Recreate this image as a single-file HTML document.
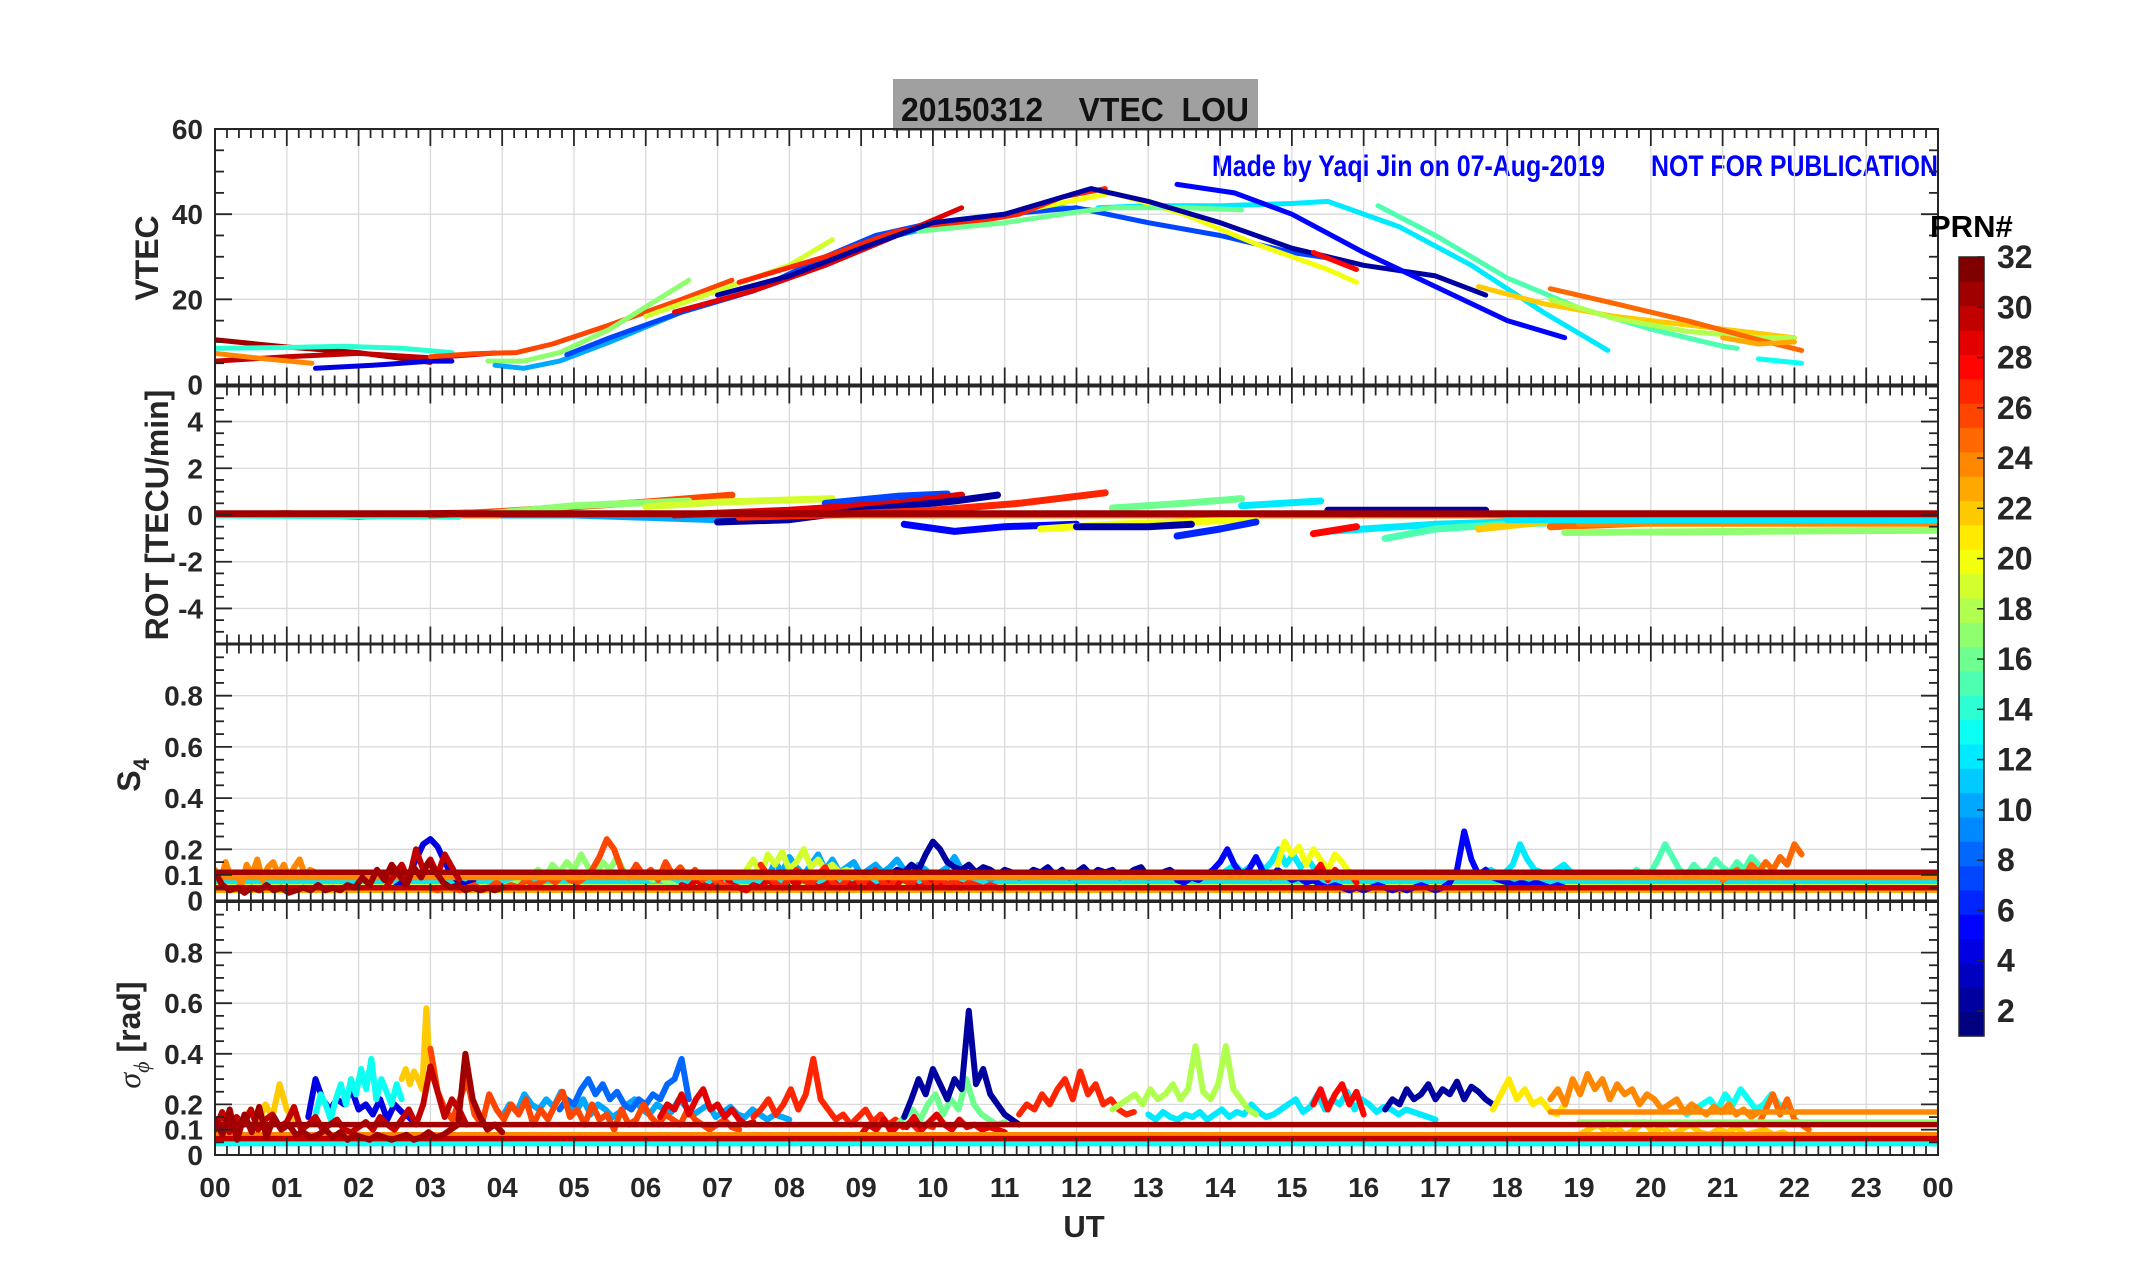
<!DOCTYPE html>
<html><head><meta charset="utf-8"><style>
html,body{margin:0;padding:0;background:#fff;}
svg{display:block;font-family:"Liberation Sans",Arial,sans-serif;}
</style></head><body>
<svg id="fig" width="2153" height="1286" viewBox="0 0 2153 1286" xmlns="http://www.w3.org/2000/svg">
<rect x="0" y="0" width="2153" height="1286" fill="#fff"/>
<rect x="893" y="79" width="365" height="52" fill="#a0a0a0"/>
<text x="901" y="121" font-size="33" font-weight="bold" fill="#111" textLength="348" lengthAdjust="spacingAndGlyphs" xml:space="preserve">20150312    VTEC  LOU</text>
<text x="1212" y="176" font-size="30" font-weight="bold" fill="#0000ff" textLength="393" lengthAdjust="spacingAndGlyphs">Made by Yaqi Jin on 07-Aug-2019</text>
<text x="1651" y="176" font-size="30" font-weight="bold" fill="#0000ff" textLength="287" lengthAdjust="spacingAndGlyphs">NOT FOR PUBLICATION</text>
<g id="panels"></g>
<g id="cbar"></g>
<text x="1084" y="1237" font-size="31" font-weight="bold" fill="#262626" text-anchor="middle">UT</text>
</svg>
<script>
// ---------- data ----------
const hourTicks = ["00","01","02","03","04","05","06","07","08","09","10","11","12","13","14","15","16","17","18","19","20","21","22","23","00"];
const vtecTicks = [0,20,40,60];
const rotTicks = [-4,-2,0,2,4];
const s4Ticks = [0,0.1,0.2,0.4,0.6,0.8];
const sigTicks = [0,0.1,0.2,0.4,0.6,0.8];
const cbarTicks = [2,4,6,8,10,12,14,16,18,20,22,24,26,28,30,32];

const vtecArcs = [
 {prn:31,h:[0,1,2,3],v:[10.5,8.8,7.5,5.2]},
 {prn:30,h:[0,1,2,3,3.9],v:[5.5,6.5,7.3,6.3,7.4]},
 {prn:24,h:[0,0.7,1.35],v:[7.3,6,5]},
 {prn:14,h:[0,1,1.8,2.6,3.3],v:[8.5,8.7,9,8.5,7.5]},
 {prn:4,h:[1.4,2.2,3,3.3],v:[3.8,4.5,5.5,5.5]},
 {prn:26,h:[3,3.6,4.2,4.7,5.5,6.5,7.2],v:[6.5,7.2,7.5,9.5,14,20,24.5]},
 {prn:17,h:[3.8,4.3,4.8,5.5,6.6],v:[5.5,5.5,7.5,13,24.5]},
 {prn:10,h:[3.9,4.3,4.8,5.5,6.5,7.5,8.5,9.5,10,11,11.8,12.2],v:[4.5,3.8,5.5,10,17,22,28,35,37,40,41.5,41]},
 {prn:12,h:[12.3,13,14,15,15.5,16.5,17.5,18.5,19.4],v:[41.5,42,42,42.5,43,37,28,17,8]},
 {prn:7,h:[4.9,5.5,6.5,7.5,8.5,9.2,10,10.5,11,12,13,14,15,15.6],v:[7,11,17,22,30,35,38,39,40,41.5,38,35,31,29.5]},
 {prn:20,h:[11,12.5,13.5,14.5,15.5,15.9],v:[40,45,40,33,27,24]},
 {prn:19,h:[6,7,8,8.6],v:[16,22,28,34]},
 {prn:27,h:[7.3,8.5,9.5,10.5,11.2,11.8,12.4],v:[24,30,36,38,40,44,46]},
 {prn:29,h:[6.4,7.5,8.5,9.5,10.4],v:[17,22,28,35,41.5]},
 {prn:16,h:[9.8,11,12,12.5,13.5,14.3],v:[36,38,40.5,41.5,41.5,41]},
 {prn:2,h:[7,8,9,10,11,12.2,13,14,15,16,17,17.7],v:[21,25.5,32,38,40,46,43,38,32,28,25.5,21]},
 {prn:5,h:[13.4,14.2,15,16,17,18,18.8],v:[47,45,40,31,23,15,11]},
 {prn:15,h:[16.2,17,18,19,20,21,21.2],v:[42,35,25,18,13,9,8.5]},
 {prn:22,h:[17.6,18.5,19.5,20.5,21.5,22],v:[23,19,16,14,12,11]},
 {prn:18,h:[18.6,19.5,20.5,21.5,22],v:[20,15.5,12.5,11,11]},
 {prn:25,h:[18.6,19.5,20.5,21.5,22.1],v:[22.5,19,15,10.5,8]},
 {prn:23,h:[21,21.5,22],v:[11,9.5,10]},
 {prn:13,h:[21.5,22.1],v:[6,5]},
 {prn:28,h:[15.3,15.9],v:[31,27]}
];

const rotArcs = [
 {prn:24,h:[0,24],v:[0,0]},
 {prn:31,h:[0,1,2,3,3.9],v:[0,0.05,-0.05,0.05,0.1]},
 {prn:14,h:[0,3.4],v:[0,-0.05]},
 {prn:26,h:[3,4,5,6,7.2],v:[0,0.15,0.35,0.55,0.85]},
 {prn:17,h:[3.8,5,6.6],v:[0.05,0.4,0.6]},
 {prn:19,h:[6,7,8.6],v:[0.35,0.55,0.7]},
 {prn:10,h:[4,5,6,7,8,9,9.8],v:[0,0,-0.1,-0.2,-0.1,0.3,0.6]},
 {prn:7,h:[8.5,9.5,10.2],v:[0.5,0.8,0.9]},
 {prn:29,h:[6.4,8,9.5,10.4],v:[0,0.2,0.5,0.85]},
 {prn:2,h:[7,8,9,10.3,10.9],v:[-0.3,-0.2,0.2,0.6,0.85]},
 {prn:27,h:[7.3,8.5,10,11.2,12.4],v:[-0.1,0,0.2,0.5,0.95]},
 {prn:5,h:[9.6,10.3,11,12],v:[-0.4,-0.7,-0.5,-0.4]},
 {prn:20,h:[11.5,12.5,13.5,14.5],v:[-0.6,-0.4,-0.3,-0.2]},
 {prn:2,h:[12,13,13.6],v:[-0.5,-0.5,-0.4]},
 {prn:6,h:[13.4,14,14.5],v:[-0.9,-0.6,-0.3]},
 {prn:16,h:[12.5,13.5,14.3],v:[0.3,0.5,0.7]},
 {prn:12,h:[14.3,15.4],v:[0.4,0.6]},
 {prn:12,h:[15.5,17,19],v:[-0.7,-0.4,-0.2]},
 {prn:28,h:[15.3,15.9],v:[-0.8,-0.5]},
 {prn:15,h:[16.3,17,18,19],v:[-1.0,-0.6,-0.4,-0.3]},
 {prn:2,h:[15.5,17.7],v:[0.2,0.2]},
 {prn:22,h:[17.6,18.5,22],v:[-0.6,-0.3,-0.1]},
 {prn:25,h:[18.6,22.1],v:[-0.5,-0.1]},
 {prn:17,h:[18.8,24],v:[-0.75,-0.65]},
 {prn:24,h:[19,24],v:[-0.35,-0.35]},
 {prn:12,h:[18,24],v:[-0.2,-0.2]},
 {prn:31,h:[0,24],v:[0.05,0.05]}
];

const s4Arcs = [
 {prn:23,t:[0,24],v:"0.04 0.04"},
 {prn:19,t:[0,24],v:"0.06 0.06"},
 {prn:12,t:[0,24],v:"0.075 0.075"},
 {prn:24,t:[0,1.4],v:"0.12 0.07 0.15 0.09 0.11 0.06 0.14 0.10 0.16 0.08 0.13 0.15 0.10 0.14 0.09 0.13 0.16 0.10 0.12 0.11"},
 {prn:17,t:[4,6.4],v:"0.05 0.06 0.07 0.08 0.10 0.12 0.09 0.14 0.11 0.15 0.12 0.18 0.13 0.10 0.15 0.12 0.17 0.11 0.09 0.12 0.10 0.08 0.09 0.07 0.06"},
 {prn:10,t:[7.5,11],v:"0.10 0.12 0.09 0.15 0.11 0.17 0.13 0.10 0.14 0.18 0.12 0.16 0.11 0.13 0.15 0.10 0.12 0.14 0.11 0.13 0.16 0.12 0.10 0.14 0.12 0.09 0.11 0.13 0.17 0.12 0.10 0.09 0.11 0.08 0.10 0.09"},
 {prn:19,t:[7.4,9],v:"0.12 0.16 0.10 0.18 0.14 0.19 0.12 0.15 0.20 0.13 0.16 0.12 0.14 0.11 0.12 0.10 0.09"},
 {prn:2,t:[9.4,13.6],v:"0.10 0.12 0.11 0.14 0.12 0.18 0.23 0.20 0.15 0.13 0.12 0.14 0.11 0.13 0.12 0.10 0.12 0.11 0.09 0.10 0.12 0.11 0.13 0.10 0.12 0.09 0.11 0.13 0.10 0.12 0.11 0.12 0.09 0.10 0.12 0.13 0.09 0.10 0.11 0.12 0.10 0.09 0.10"},
 {prn:12,t:[14,19.4],v:"0.10 0.12 0.14 0.11 0.13 0.16 0.12 0.15 0.20 0.14 0.18 0.13 0.16 0.12 0.10 0.11 0.09 0.10 0.11 0.10 0.09 0.08 0.09 0.10 0.09 0.08 0.09 0.10 0.11 0.09 0.10 0.09 0.11 0.10 0.09 0.10 0.11 0.12 0.10 0.11 0.14 0.22 0.16 0.12 0.11 0.10 0.12 0.14 0.11 0.10 0.09 0.10 0.09 0.08"},
 {prn:5,t:[13.4,18.8],v:"0.08 0.07 0.09 0.08 0.10 0.12 0.15 0.20 0.14 0.10 0.12 0.17 0.11 0.09 0.12 0.10 0.08 0.09 0.07 0.08 0.06 0.05 0.06 0.05 0.04 0.05 0.04 0.05 0.06 0.05 0.04 0.05 0.04 0.05 0.06 0.05 0.04 0.05 0.07 0.12 0.27 0.16 0.10 0.12 0.09 0.08 0.07 0.06 0.07 0.06 0.07 0.06 0.05 0.06 0.05"},
 {prn:20,t:[14.8,15.9],v:"0.14 0.23 0.18 0.21 0.14 0.20 0.16 0.12 0.18 0.15 0.11 0.10"},
 {prn:15,t:[19.4,21.9],v:"0.09 0.10 0.11 0.09 0.12 0.10 0.11 0.16 0.22 0.17 0.12 0.10 0.14 0.11 0.12 0.16 0.13 0.11 0.15 0.12 0.17 0.14 0.11 0.10 0.09 0.10"},
 {prn:25,t:[21,22.1],v:"0.08 0.10 0.12 0.09 0.14 0.11 0.15 0.12 0.17 0.14 0.22 0.18"},
 {prn:4,t:[2.5,3.6],v:"0.05 0.07 0.10 0.16 0.22 0.24 0.21 0.15 0.10 0.07 0.06 0.08"},
 {prn:29,t:[6.5,10.5],v:"0.06 0.05 0.08 0.06 0.05 0.07 0.10 0.06 0.05 0.04 0.06 0.05 0.08 0.06 0.05 0.09 0.06 0.10 0.07 0.05 0.06 0.08 0.05 0.07 0.06 0.09 0.07 0.05 0.06 0.08 0.06 0.10 0.07 0.05 0.06 0.08 0.06 0.05 0.07 0.06 0.05"},
 {prn:26,t:[3,7.3],v:"0.05 0.04 0.06 0.05 0.04 0.05 0.06 0.04 0.05 0.07 0.05 0.06 0.05 0.08 0.06 0.07 0.09 0.07 0.10 0.08 0.07 0.09 0.12 0.17 0.24 0.20 0.12 0.09 0.14 0.10 0.12 0.08 0.15 0.10 0.13 0.09 0.12 0.08 0.10 0.07 0.06 0.05 0.05"},
 {prn:27,t:[7.6,11],v:"0.14 0.10 0.07 0.05 0.09 0.12 0.08 0.06 0.10 0.13 0.07 0.05 0.08 0.11 0.06 0.09 0.12 0.07 0.05 0.10 0.08 0.06 0.11 0.07 0.05 0.09 0.06 0.08 0.05 0.07 0.06 0.05 0.06 0.05 0.05"},
 {prn:28,t:[15.3,15.9],v:"0.10 0.14 0.08 0.12 0.09 0.11 0.07"},
 {prn:24,t:[0,24],v:"0.09 0.09"},
 {prn:30,t:[2.4,3.4],v:"0.06 0.10 0.14 0.08 0.20 0.12 0.16 0.10 0.18 0.13 0.08"},
 {prn:30,t:[0,24],v:"0.05 0.05"},
 {prn:31,t:[0,4],v:"0.11 0.06 0.04 0.05 0.03 0.05 0.04 0.06 0.04 0.05 0.03 0.04 0.05 0.04 0.06 0.04 0.05 0.04 0.06 0.05 0.09 0.06 0.12 0.08 0.14 0.10 0.06 0.13 0.09 0.15 0.11 0.07 0.05 0.06 0.04 0.05 0.04 0.05 0.04 0.05"},
 {prn:31,t:[0,24],v:"0.11 0.11"}
];

const sigArcs = [
 {prn:13,t:[0,24],v:"0.045 0.045"},
 {prn:22,t:[0,1.2],v:"0.08 0.12 0.16 0.10 0.14 0.18 0.12 0.20 0.15 0.28 0.18 0.14 0.12"},
 {prn:4,t:[1.3,2.8],v:"0.15 0.30 0.22 0.18 0.22 0.20 0.26 0.18 0.20 0.16 0.22 0.14 0.20 0.17 0.15 0.12"},
 {prn:13,t:[1.4,2.6],v:"0.16 0.24 0.20 0.14 0.22 0.28 0.20 0.30 0.24 0.34 0.26 0.38 0.22 0.30 0.25 0.20 0.28 0.22"},
 {prn:22,t:[2.6,3.0],v:"0.30 0.34 0.28 0.33 0.30 0.26 0.58 0.30"},
 {prn:10,t:[4,8],v:"0.15 0.20 0.17 0.24 0.20 0.18 0.22 0.19 0.25 0.20 0.17 0.22 0.16 0.20 0.18 0.15 0.17 0.20 0.22 0.18 0.16 0.20 0.18 0.17 0.22 0.19 0.16 0.18 0.20 0.15 0.17 0.19 0.16 0.15 0.18 0.16 0.14 0.16 0.15 0.14"},
 {prn:8,t:[4.8,6.6],v:"0.18 0.22 0.20 0.26 0.30 0.24 0.28 0.22 0.25 0.20 0.18 0.22 0.20 0.24 0.22 0.28 0.30 0.38 0.22"},
 {prn:26,t:[3,7.3],v:"0.42 0.25 0.18 0.14 0.22 0.30 0.16 0.12 0.24 0.18 0.14 0.20 0.16 0.22 0.12 0.18 0.14 0.20 0.25 0.15 0.18 0.12 0.20 0.14 0.16 0.10 0.18 0.12 0.14 0.20 0.15 0.12 0.16 0.14 0.12 0.18 0.14 0.12 0.10 0.12 0.14 0.11 0.10"},
 {prn:29,t:[6.2,7.5],v:"0.15 0.20 0.18 0.24 0.16 0.22 0.26 0.18 0.20 0.15 0.18 0.14 0.12 0.13"},
 {prn:27,t:[7.5,10],v:"0.15 0.18 0.22 0.16 0.20 0.26 0.18 0.24 0.38 0.22 0.18 0.14 0.16 0.12 0.15 0.18 0.13 0.16 0.12 0.14 0.11 0.13 0.10 0.12 0.11"},
 {prn:16,t:[9.5,11],v:"0.12 0.15 0.18 0.14 0.20 0.24 0.16 0.22 0.18 0.30 0.20 0.16 0.14 0.12 0.13"},
 {prn:2,t:[9.6,11.2],v:"0.15 0.22 0.30 0.24 0.34 0.28 0.22 0.30 0.26 0.57 0.28 0.34 0.24 0.20 0.16 0.14 0.12"},
 {prn:29,t:[9,11],v:"0.08 0.12 0.10 0.14 0.09 0.12 0.11 0.15 0.10 0.13 0.16 0.12 0.10 0.14 0.11 0.12 0.10 0.11 0.10 0.09"},
 {prn:27,t:[11.2,12.8],v:"0.16 0.20 0.18 0.24 0.20 0.26 0.30 0.22 0.33 0.24 0.28 0.20 0.22 0.18 0.16 0.17"},
 {prn:12,t:[13,17],v:"0.16 0.14 0.17 0.15 0.14 0.16 0.15 0.17 0.14 0.16 0.18 0.15 0.17 0.16 0.20 0.17 0.15 0.16 0.18 0.20 0.22 0.17 0.19 0.24 0.18 0.22 0.20 0.25 0.18 0.22 0.20 0.17 0.19 0.18 0.16 0.18 0.17 0.16 0.15 0.14"},
 {prn:18,t:[12.5,14.5],v:"0.18 0.20 0.22 0.24 0.20 0.26 0.22 0.24 0.28 0.22 0.26 0.43 0.25 0.22 0.28 0.43 0.26 0.22 0.18 0.16"},
 {prn:28,t:[15.3,16],v:"0.20 0.26 0.18 0.24 0.28 0.20 0.25 0.16"},
 {prn:2,t:[16.3,17.8],v:"0.18 0.22 0.20 0.26 0.22 0.24 0.28 0.22 0.26 0.24 0.29 0.22 0.27 0.25 0.22 0.20"},
 {prn:21,t:[17.8,18.8],v:"0.18 0.24 0.30 0.22 0.26 0.20 0.22 0.18 0.16 0.20"},
 {prn:13,t:[20.5,22],v:"0.16 0.18 0.20 0.22 0.18 0.24 0.20 0.26 0.22 0.18 0.20 0.24 0.20 0.18 0.16"},
 {prn:24,t:[18.6,21.5],v:"0.22 0.26 0.20 0.30 0.24 0.32 0.26 0.30 0.22 0.28 0.24 0.26 0.20 0.24 0.22 0.18 0.20 0.22 0.17 0.20 0.18 0.16 0.19 0.17 0.20 0.16 0.18 0.15 0.17"},
 {prn:22,t:[19,22.1],v:"0.08 0.10 0.12 0.09 0.11 0.08 0.10 0.13 0.09 0.11 0.08 0.10 0.12 0.09 0.08 0.10 0.09 0.11 0.08 0.09 0.10 0.08 0.09 0.07 0.08"},
 {prn:25,t:[21.5,22.2],v:"0.12 0.18 0.24 0.16 0.22 0.14 0.12 0.10"},
 {prn:24,t:[18.6,24],v:"0.17 0.17"},
 {prn:17,t:[19,24],v:"0.13 0.13"},
 {prn:24,t:[0,24],v:"0.08 0.08"},
 {prn:30,t:[0,3.5],v:"0.10 0.17 0.09 0.15 0.12 0.18 0.10 0.14 0.16 0.11 0.13 0.19 0.10 0.12 0.15 0.10 0.12 0.14 0.10 0.09 0.11 0.13 0.10 0.15 0.12 0.10 0.14 0.18 0.12 0.20 0.35 0.25 0.15 0.22 0.18 0.12"},
 {prn:30,t:[0,24],v:"0.065 0.065"},
 {prn:31,t:[0,4],v:"0.14 0.08 0.18 0.06 0.16 0.09 0.19 0.07 0.15 0.10 0.12 0.08 0.09 0.07 0.08 0.10 0.07 0.09 0.06 0.08 0.07 0.06 0.08 0.07 0.06 0.07 0.08 0.06 0.07 0.09 0.07 0.08 0.10 0.12 0.40 0.22 0.15 0.10 0.12 0.09"},
 {prn:31,t:[0,24],v:"0.12 0.12"}
];

// ---------- helpers ----------
const NS="http://www.w3.org/2000/svg";
const svg=document.getElementById('fig');
const panelsG=document.getElementById('panels');
const X0=215,X1=1938;
const xs=h=>X0+h*(X1-X0)/24;
function jet(x){const c=v=>Math.max(0,Math.min(1,v));
 return `rgb(${Math.round(255*c(1.5-Math.abs(4*x-3)))},${Math.round(255*c(1.5-Math.abs(4*x-2)))},${Math.round(255*c(1.5-Math.abs(4*x-1)))})`;}
const NB=32;
function prnColor(p){let b=Math.min(NB-1,Math.floor((p-1)/31*NB));return jet(b/(NB-1));}
function mk(tag,attrs,parent){const e=document.createElementNS(NS,tag);for(const k in attrs)e.setAttribute(k,attrs[k]);(parent||svg).appendChild(e);return e;}

const panels=[
 {key:'vtec',top:129,bot:384.5,min:0,max:60,ticks:vtecTicks,minor:5,grid:vtecTicks},
 {key:'rot',top:386.5,bot:643.5,min:-5.5,max:5.5,ticks:rotTicks,minor:0.5,grid:rotTicks},
 {key:'s4',top:644.5,bot:900.5,min:0,max:1,ticks:s4Ticks,minor:0.05,grid:[0.2,0.4,0.6,0.8]},
 {key:'sig',top:902,bot:1155,min:0,max:1,ticks:sigTicks,minor:0.05,grid:[0.2,0.4,0.6,0.8]}
];
panels.forEach(p=>{p.ys=v=>p.bot-(v-p.min)/(p.max-p.min)*(p.bot-p.top);});

panels.forEach((p,pi)=>{
 const g=mk('g',{},panelsG);
 
 
 const cp=mk('clipPath',{id:'clip'+pi},g);
 mk('rect',{x:X0,y:p.top,width:X1-X0,height:p.bot-p.top},cp);
 for(let h=1;h<24;h++){const l=mk('line',{x1:xs(h),x2:xs(h),y1:p.top,y2:p.bot,stroke:'#dadada','stroke-width':1.3},g);
  
  }
 p.grid.forEach(v=>{if(v===p.min||v===p.max)return;const l=mk('line',{x1:X0,x2:X1,y1:p.ys(v),y2:p.ys(v),stroke:'#dadada','stroke-width':1.3},g);
  
  });
 const dg=mk('g',{'clip-path':`url(#clip${pi})`,'stroke-linejoin':'round','stroke-linecap':'round',fill:'none'},g);
 
 
 let arcs=[];
 if(p.key==='vtec')arcs=vtecArcs.map(a=>({prn:a.prn,pts:a.h.map((h,i)=>[h,a.v[i]]),w:5}));
 if(p.key==='rot')arcs=rotArcs.map(a=>({prn:a.prn,pts:a.h.map((h,i)=>[h,a.v[i]]),w:7}));
 if(p.key==='s4'||p.key==='sig'){const src=p.key==='s4'?s4Arcs:sigArcs;
  arcs=src.map(a=>{const vals=a.v.split(' ').map(Number);const n=vals.length;
   return {prn:a.prn,pts:vals.map((v,i)=>[a.t[0]+(a.t[1]-a.t[0])*(n>1?i/(n-1):0),v]),w:(n===2?5.5:6)};});}
 arcs.forEach(a=>{
  const d=a.pts.map((q,i)=>(i?'L':'M')+xs(q[0]).toFixed(1)+' '+p.ys(q[1]).toFixed(1)).join(' ');
  const path=mk('path',{d:d,stroke:prnColor(a.prn),'stroke-width':a.w},dg);
  
  
 });
 const box=mk('rect',{x:X0,y:p.top,width:X1-X0,height:p.bot-p.top,fill:'none',stroke:'#262626','stroke-width':2},g);
 
 
 for(let m=0;m<=144;m++){const x=xs(m/6);const major=m%6===0;const L=major?17:9;
  mk('line',{x1:x,x2:x,y1:p.top,y2:p.top+L,stroke:'#262626','stroke-width':1.8},g);
  mk('line',{x1:x,x2:x,y1:p.bot,y2:p.bot-L,stroke:'#262626','stroke-width':1.8},g);}
 const nMin=Math.round((p.max-p.min)/p.minor);
 for(let k=0;k<=nMin;k++){const v=p.min+k*p.minor;const major=p.ticks.some(t=>Math.abs(t-v)<1e-9);const L=major?17:9;const y=p.ys(v);
  mk('line',{x1:X0,x2:X0+L,y1:y,y2:y,stroke:'#262626','stroke-width':1.8},g);
  mk('line',{x1:X1,x2:X1-L,y1:y,y2:y,stroke:'#262626','stroke-width':1.8},g);}
 p.ticks.forEach(v=>{const t=mk('text',{x:203,y:p.ys(v)+10,'font-size':28,'font-weight':'bold',fill:'#262626','text-anchor':'end'},g);
  t.textContent=String(v);
  
  });
});
hourTicks.forEach((s,i)=>{const t=mk('text',{x:xs(i),y:1197,'font-size':28,'font-weight':'bold',fill:'#262626','text-anchor':'middle'});
 t.textContent=s;
 
 });
function ytitle(txt,x,y,name,size){const t=mk('text',{x:x,y:y,'font-size':size,'font-weight':'bold',fill:'#262626','text-anchor':'middle',transform:`rotate(-90 ${x} ${y})`});
 t.innerHTML=txt;
 
 }
ytitle('VTEC',158,258,'vtec-axis-title',32);
ytitle('ROT [TECU/min]',168,515,'rot-axis-title',32);
ytitle('S<tspan font-size="22" dy="9">4</tspan>',140,775,'s4-axis-title',32);
ytitle('<tspan font-family="Liberation Serif" font-style="italic" font-weight="normal">σ</tspan><tspan font-size="22" dy="9" font-family="Liberation Serif" font-style="italic" font-weight="normal">ϕ</tspan><tspan dy="-9"> [rad]</tspan>',140,1035,'sigma-phi-axis-title',32);
const cb=document.getElementById('cbar');


const CT=257,CB=1036,CX=1959,CW=25;
const cy=v=>CB-(v-1)/31*(CB-CT);
for(let i=0;i<NB;i++){const y0=CB-(i+1)*(CB-CT)/NB;
 const r=mk('rect',{x:CX,y:y0,width:CW,height:(CB-CT)/NB+0.6,fill:jet(i/(NB-1))},cb);
 
 }
mk('rect',{x:CX,y:CT,width:CW,height:CB-CT,fill:'none',stroke:'#262626','stroke-width':1.5},cb);
cbarTicks.forEach(v=>{mk('line',{x1:CX+CW,x2:CX+CW-7,y1:cy(v),y2:cy(v),stroke:'#262626','stroke-width':1.5},cb);
 const t=mk('text',{x:1997,y:cy(v)+11,'font-size':32,'font-weight':'bold',fill:'#262626'},cb);
 t.textContent=String(v);
 
 });
const pt=mk('text',{x:1930,y:237,'font-size':31,'font-weight':'bold',fill:'#000'},cb);
pt.textContent='PRN#';


</script>
</body></html>
